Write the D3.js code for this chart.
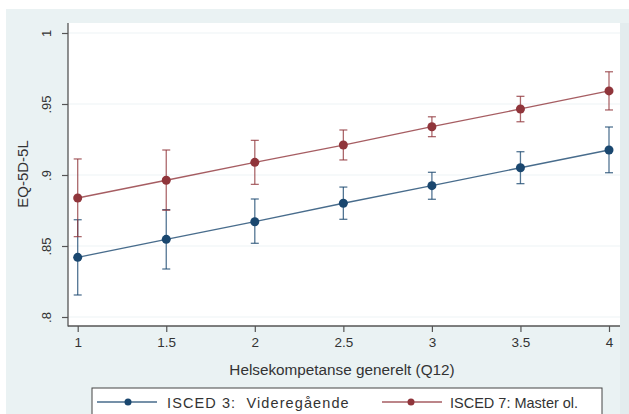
<!DOCTYPE html>
<html><head><meta charset="utf-8">
<script src="https://cdn.jsdelivr.net/npm/d3@7"></script>
<style>html,body{margin:0;padding:0;background:#fff;}svg{display:block;}</style>
</head><body>
<script>
const xValues = [1, 1.5, 2, 2.5, 3, 3.5, 4];
const isced3 = [0.842, 0.8547, 0.8671, 0.8801, 0.8925, 0.9051, 0.9176];
const isced3Lo = [0.8155, 0.8338, 0.8519, 0.8688, 0.8829, 0.8939, 0.9016];
const isced3Hi = [0.8685, 0.8756, 0.8831, 0.8915, 0.9019, 0.9164, 0.9338];
const isced7 = [0.8838, 0.8963, 0.9089, 0.9211, 0.934, 0.9465, 0.9592];
const isced7Lo = [0.8566, 0.8752, 0.8934, 0.9106, 0.927, 0.9375, 0.9458];
const isced7Hi = [0.9113, 0.9176, 0.9244, 0.9317, 0.941, 0.9554, 0.9727];
const xTicks = [1, 1.5, 2, 2.5, 3, 3.5, 4];
const yTicks = [0.8, 0.85, 0.9, 0.95, 1];
const yTickLabels = [".8", ".85", ".9", ".95", "1"];
const seriesNames = ["ISCED 3:  Videregående", "ISCED 7: Master ol."];
const seriesColors = ["#1a476f", "#90353b"];

const W = 629, H = 414;
const svg = d3.select("body").append("svg").attr("width", W).attr("height", H)
  .style("font-family", "Liberation Sans, Arial, sans-serif");

svg.append("rect").attr("x", 0).attr("y", 0).attr("width", W).attr("height", H).attr("fill", "#ffffff");
svg.append("rect").attr("x", 6).attr("y", 9).attr("width", W - 6).attr("height", H - 9).attr("fill", "#eaf2f3");
svg.append("rect").attr("x", 620).attr("y", 23).attr("width", 9).attr("height", H - 23).attr("fill", "#e3ecee");

const plot = {left: 68, right: 620, top: 23, bottom: 326};
svg.append("rect").attr("x", plot.left).attr("y", plot.top)
  .attr("width", plot.right - plot.left).attr("height", plot.bottom - plot.top).attr("fill", "#ffffff");

const x = d3.scaleLinear().domain([1, 4]).range([77.7, 609]);
const y = d3.scaleLinear().domain([0.8, 1]).range([317, 33]);

// gridlines
svg.append("g").selectAll("line").data(yTicks).join("line")
  .attr("x1", plot.left).attr("x2", plot.right)
  .attr("y1", d => y(d)).attr("y2", d => y(d))
  .attr("stroke", "#eef4f5").attr("stroke-width", 1.2);

// y axis
const yAxis = d3.axisLeft(y).tickValues(yTicks).tickSize(6).tickPadding(4)
  .tickFormat((d, i) => yTickLabels[i]);
const gy = svg.append("g").attr("transform", `translate(${plot.left},0)`).call(yAxis);
gy.select(".domain").remove();
gy.append("line").attr("x1", 0).attr("x2", 0).attr("y1", plot.top).attr("y2", plot.bottom + 0.5)
  .attr("stroke", "#555").attr("stroke-width", 1.3);
gy.selectAll(".tick line").attr("stroke", "#555").attr("stroke-width", 1.2);
gy.selectAll(".tick text")
  .attr("transform", `translate(-17,0) rotate(-90)`)
  .attr("x", 0).attr("dy", "0").attr("text-anchor", "middle")
  .attr("font-size", 13).attr("fill", "#333");

// x axis
const xAxis = d3.axisBottom(x).tickValues(xTicks).tickSize(6).tickPadding(5)
  .tickFormat(d => d3.format("")(d));
const gx = svg.append("g").attr("transform", `translate(0,${plot.bottom})`).call(xAxis);
gx.select(".domain").remove();
gx.append("line").attr("x1", plot.left).attr("x2", plot.right).attr("y1", 0).attr("y2", 0)
  .attr("stroke", "#555").attr("stroke-width", 1.3);
gx.selectAll(".tick line").attr("stroke", "#555").attr("stroke-width", 1.2);
gx.selectAll(".tick text").attr("font-size", 13.5).attr("fill", "#333");

// axis titles
svg.append("text").attr("transform", "translate(28,174) rotate(-90)")
  .attr("text-anchor", "middle").attr("font-size", 15).attr("fill", "#333").text("EQ-5D-5L");
svg.append("text").attr("x", 342).attr("y", 375)
  .attr("text-anchor", "middle").attr("font-size", 15.3).attr("fill", "#333")
  .text("Helsekompetanse generelt (Q12)");

// series
const series = [
  {vals: isced3, lo: isced3Lo, hi: isced3Hi, color: seriesColors[0]},
  {vals: isced7, lo: isced7Lo, hi: isced7Hi, color: seriesColors[1]}
];
const line = d3.line().x(d => x(d[0])).y(d => y(d[1]));
series.forEach(s => {
  const g = svg.append("g");
  const pts = xValues.map((xv, i) => ({x: xv, v: s.vals[i], lo: s.lo[i], hi: s.hi[i]}));
  g.selectAll("line.ci").data(pts).join("line").attr("class", "ci")
    .attr("x1", d => x(d.x)).attr("x2", d => x(d.x))
    .attr("y1", d => y(d.lo)).attr("y2", d => y(d.hi))
    .attr("stroke", s.color).attr("stroke-opacity", 0.75).attr("stroke-width", 1.3);
  ["lo", "hi"].forEach(k => {
    g.selectAll("line.cap" + k).data(pts).join("line").attr("class", "cap" + k)
      .attr("x1", d => x(d.x) - 4).attr("x2", d => x(d.x) + 4)
      .attr("y1", d => y(d[k])).attr("y2", d => y(d[k]))
      .attr("stroke", s.color).attr("stroke-opacity", 0.75).attr("stroke-width", 1.3);
  });
  g.append("path").datum(xValues.map((xv, i) => [xv, s.vals[i]]))
    .attr("d", line).attr("fill", "none").attr("stroke", s.color)
    .attr("stroke-opacity", 0.8).attr("stroke-width", 1.3);
  g.selectAll("circle").data(pts).join("circle")
    .attr("cx", d => x(d.x)).attr("cy", d => y(d.v)).attr("r", 4.5)
    .attr("fill", s.color);
});

// legend
const lg = svg.append("g");
lg.append("rect").attr("x", 92).attr("y", 388).attr("width", 510).attr("height", 30)
  .attr("fill", "#ffffff").attr("stroke", "#444").attr("stroke-width", 1);
const legendItems = [
  {x1: 97, x2: 157, cx: 128, tx: 167, name: seriesNames[0], color: seriesColors[0], ls: 1.1},
  {x1: 382, x2: 442, cx: 411, tx: 450, name: seriesNames[1], color: seriesColors[1], ls: 0}
];
legendItems.forEach(it => {
  lg.append("line").attr("x1", it.x1).attr("x2", it.x2).attr("y1", 402).attr("y2", 402)
    .attr("stroke", it.color).attr("stroke-opacity", 0.8).attr("stroke-width", 1.3);
  lg.append("circle").attr("cx", it.cx).attr("cy", 402).attr("r", 3.5).attr("fill", it.color);
  lg.append("text").attr("x", it.tx).attr("y", 407.5).attr("font-size", 14.5)
    .attr("letter-spacing", it.ls).style("white-space", "pre")
    .attr("fill", "#333").text(it.name);
});
</script>
</body></html>
